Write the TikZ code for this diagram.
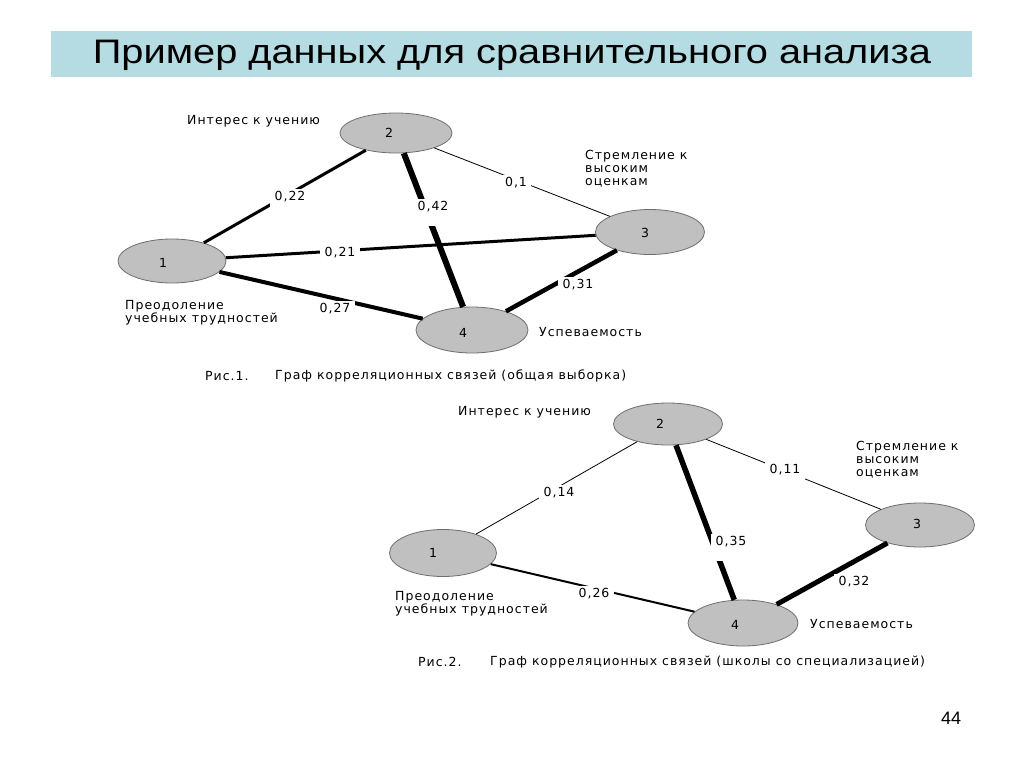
\documentclass[tikz,border=0pt]{standalone}
\usepackage{fontspec}
\setmainfont{Liberation Sans}
\newfontfamily\lblfont[LetterSpace=8]{DejaVu Sans}
\usetikzlibrary{shapes.geometric}
\definecolor{titlebg}{RGB}{180,220,226}
\definecolor{nodefill}{RGB}{192,192,192}
\definecolor{nodeline}{RGB}{110,110,110}
\tikzset{
  vert/.style={ellipse, draw=nodeline, line width=0.8pt, fill=nodefill, inner sep=0pt},
  small/.style={font=\lblfont\fontsize{12.5}{13}\selectfont, inner sep=0pt},
  wlab/.style={small, fill=white, inner xsep=4.5pt, inner ysep=1pt, text height=11pt, text depth=14pt, anchor=base, yshift=-4.5pt},
  lnk/.style={draw=black, line cap=butt},
}
\begin{document}
\begin{tikzpicture}[x=1pt,y=-1pt]
\useasboundingbox (0,0) rectangle (1024,768);
\fill[white] (0,0) rectangle (1024,768);
% title
\fill[titlebg] (51,31) rectangle (972,77);
\node[font=\fontsize{34}{40}\selectfont, inner sep=0pt] (title) at (512,55) {\scalebox{1.17}[1]{Пример данных для сравнительного анализа}};

% ---------- Graph 1 ----------
\node[vert, minimum width=108pt, minimum height=44pt] (a1) at (172,261) {};
\node[vert, minimum width=112pt, minimum height=40pt] (a2) at (396,133) {};
\node[vert, minimum width=109pt, minimum height=45pt] (a3) at (650,232) {};
\node[vert, minimum width=112pt, minimum height=46pt] (a4) at (472,330) {};
\node[small] (a1n) at (163,263) {1};
\node[small] (a2n) at (389,133) {2};
\node[small] (a3n) at (645,233) {3};
\node[small] (a4n) at (463,333) {4};

\draw[lnk, line width=3pt] (a1) -- (a2);
\draw[lnk, line width=0.8pt] (a2) -- (a3);
\draw[lnk, line width=3pt] (a1) -- (a3);
\draw[lnk, line width=4pt] (a1) -- (a4);
\draw[lnk, line width=4.5pt] (a3) -- (a4);
\draw[lnk, line width=6pt] (a2) -- (a4);

\node[wlab] (a12) at (290,196) {0,22};
\node[wlab] (a24) at (433,206) {0,42};
\node[wlab] (a23) at (516,182) {0,1};
\node[wlab] (a13) at (340,252) {0,21};
\node[wlab] (a14) at (335,308) {0,27};
\node[wlab] (a34) at (578,284) {0,31};

\node[small, anchor=west] (at2) at (187,121) {Интерес к учению};
\node[small, anchor=west, align=left] (at3) at (585,169) {Стремление к\\высоким\\оценкам};
\node[small, anchor=west, align=left] (at1) at (125,312.5) {Преодоление\\учебных трудностей};
\node[small, anchor=west] (at4) at (539,332) {Успеваемость};
\node[small, anchor=west] (cap1a) at (205,376) {Рис.1.};
\node[small, anchor=west] (cap1b) at (275,376) {Граф корреляционных связей (общая выборка)};

% ---------- Graph 2 ----------
\node[vert, minimum width=107pt, minimum height=47pt] (b1) at (443,553) {};
\node[vert, minimum width=109pt, minimum height=42pt] (b2) at (668,424) {};
\node[vert, minimum width=109pt, minimum height=44pt] (b3) at (920,525) {};
\node[vert, minimum width=110pt, minimum height=46pt] (b4) at (743,623) {};
\node[small] (b1n) at (433,553) {1};
\node[small] (b2n) at (660,424) {2};
\node[small] (b3n) at (917,524) {3};
\node[small] (b4n) at (735,625) {4};

\draw[lnk, line width=0.8pt] (b1) -- (b2);
\draw[lnk, line width=0.8pt] (b2) -- (b3);
\draw[lnk, line width=2pt] (b1) -- (b4);
\draw[lnk, line width=5pt] (b3) -- (b4);
\draw[lnk, line width=5.5pt] (b2) -- (b4);

\node[wlab] (b12) at (559,492) {0,14};
\node[wlab] (b23) at (785,469) {0,11};
\node[wlab] (b24) at (731,541) {0,35};
\node[wlab] (b14) at (594,593) {0,26};
\node[wlab] (b34) at (854,581) {0,32};

\node[small, anchor=west] (bt2) at (458,412) {Интерес к учению};
\node[small, anchor=west, align=left] (bt3) at (856,460) {Стремление к\\высоким\\оценкам};
\node[small, anchor=west, align=left] (bt1) at (395,603.5) {Преодоление\\учебных трудностей};
\node[small, anchor=west] (bt4) at (810,624) {Успеваемость};
\node[small, anchor=west] (cap2a) at (418,662) {Рис.2.};
\node[small, anchor=west] (cap2b) at (490,662) {Граф корреляционных связей (школы со специализацией)};

\node[font=\fontsize{18}{20}\selectfont, inner sep=0pt] (pg) at (951,718) {44};
\end{tikzpicture}
\end{document}
